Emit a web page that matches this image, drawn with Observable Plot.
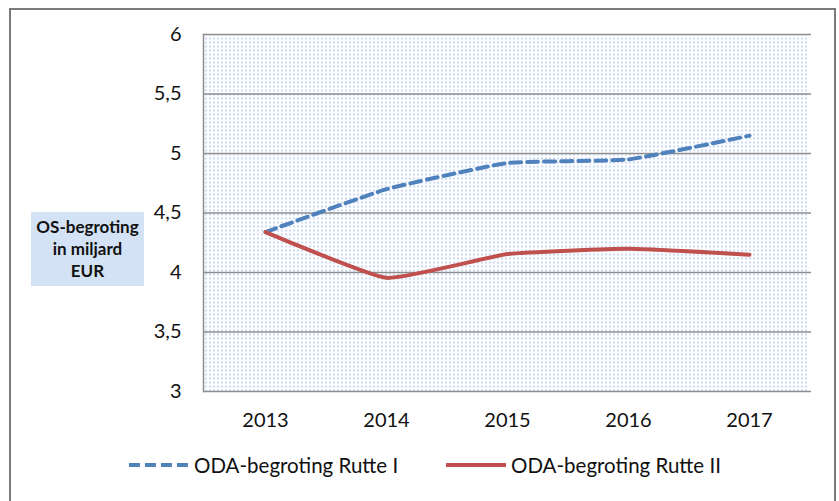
<!DOCTYPE html>
<html>
<head>
<meta charset="utf-8">
<script src="https://cdn.jsdelivr.net/npm/d3@7"></script>
<script src="https://cdn.jsdelivr.net/npm/@observablehq/plot@0.6"></script>
<style>
  html, body { margin: 0; padding: 0; background: #fff; }
  body { width: 839px; height: 501px; overflow: hidden; position: relative; font-family: Lato, "Liberation Sans", sans-serif; }
  #border { position: absolute; left: 9px; top: 8px; width: 823px; height: 600px; border: 2px solid #7a7a7a; border-bottom: none; }
  #chart { position: absolute; left: 0; top: 0; }
  #ylabel { position: absolute; left: 31px; top: 212px; width: 113px; height: 74px; background: #d3e2f4;
            font-weight: bold; font-size: 17px; line-height: 22px; text-align: center; color: #111;
            display: flex; align-items: center; justify-content: center; }
  #legend { position: absolute; left: 0; top: 440px; width: 839px; height: 61px; font-size: 20.5px; color: #111; }
  .item { position: absolute; top: 13px; display: flex; align-items: center; white-space: nowrap; }
  .item svg { margin-right: 5px; }
</style>
</head>
<body>
<div id="border"></div>
<div id="chart"></div>
<div id="ylabel">OS-begroting<br>in miljard<br>EUR</div>
<div id="legend"></div>
<script>
const years = [2013, 2014, 2015, 2016, 2017];
const rutteI = [4.34, 4.70, 4.92, 4.95, 5.15];
const rutteII = [4.34, 3.955, 4.155, 4.20, 4.15];
const yTicks = [3, 3.5, 4, 4.5, 5, 5.5, 6];
const seriesNames = ["ODA-begroting Rutte I", "ODA-begroting Rutte II"];
const seriesColors = ["#4f81bd", "#c0504d"];

const dataI = years.map((y, i) => ({year: y, value: rutteI[i]}));
const dataII = years.map((y, i) => ({year: y, value: rutteII[i]}));

const plot = Plot.plot({
  width: 839,
  height: 440,
  marginLeft: 203,
  marginRight: 28,
  marginTop: 34,
  marginBottom: 49,
  style: {fontFamily: "Lato, 'Liberation Sans', sans-serif", fontSize: "20px", color: "#111", background: "transparent"},
  x: {type: "point", domain: years, padding: 0.5, label: null},
  y: {domain: [3, 6], label: null},
  marks: [
    Plot.frame({fill: "url(#dots)", stroke: null, insetRight: 3}),
    Plot.gridY(yTicks, {stroke: "#8e8e8e", strokeOpacity: 1, strokeWidth: 1.5}),
    Plot.frame({anchor: "left", stroke: "#8e8e8e", strokeWidth: 1.5}),
    Plot.axisY(yTicks, {tickSize: 0, tickPadding: 22, tickFormat: d => String(d).replace(".", ","), fontSize: 20, label: null}),
    Plot.axisX(years, {tickSize: 0, tickPadding: 21, tickFormat: d => String(d), fontSize: 20, label: null}),
    Plot.line(dataI, {x: "year", y: "value", stroke: seriesColors[0], strokeWidth: 4, strokeDasharray: "11,6", curve: "cardinal", tension: 0.6}),
    Plot.line(dataII, {x: "year", y: "value", stroke: seriesColors[1], strokeWidth: 4, curve: "cardinal", tension: 0.6})
  ]
});

const ns = "http://www.w3.org/2000/svg";
const defs = document.createElementNS(ns, "defs");
defs.innerHTML = '<pattern id="dots" width="4" height="4" patternUnits="userSpaceOnUse">' +
  '<rect width="4" height="4" fill="#ffffff"/>' +
  '<rect x="1" y="1" width="1" height="2" fill="#93b7e8"/></pattern>';
plot.insertBefore(defs, plot.firstChild);
document.getElementById("chart").appendChild(plot);

const legend = document.getElementById("legend");
const lefts = [129, 446];
seriesNames.forEach((name, i) => {
  const item = document.createElement("div");
  item.className = "item";
  item.style.left = lefts[i] + "px";
  const dash = i === 0 ? 'stroke-dasharray="11,5"' : '';
  item.innerHTML = `<svg width="60" height="8"><line x1="0" x2="60" y1="4" y2="4" stroke="${seriesColors[i]}" stroke-width="4" ${dash}/></svg><span>${name}</span>`;
  legend.appendChild(item);
});
</script>
</body>
</html>
